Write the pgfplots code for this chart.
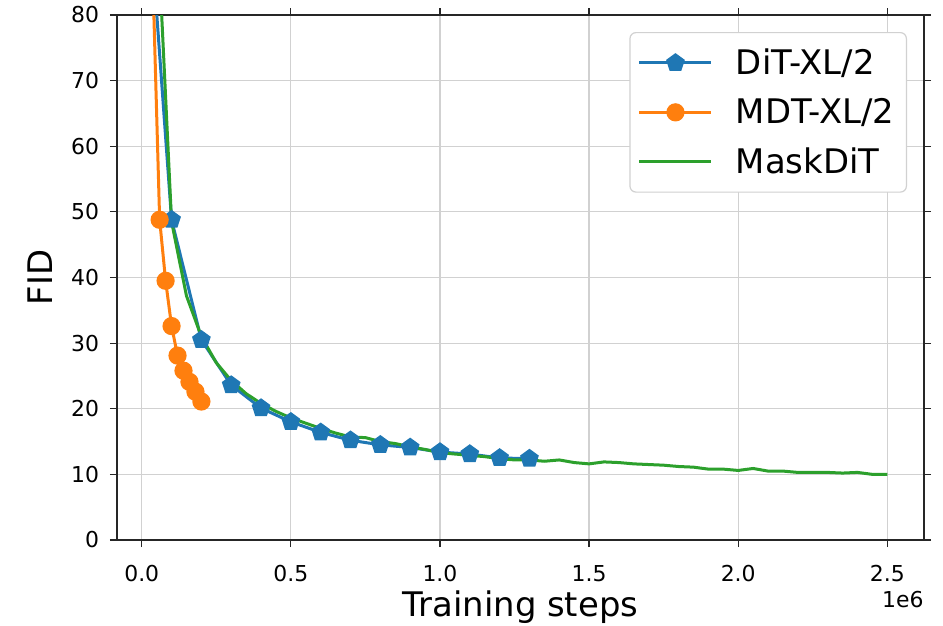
\documentclass[border=0pt]{standalone}
\usepackage{fontspec}
\setmainfont{DejaVu Sans}
\usepackage{pgfplots}
\pgfplotsset{compat=1.18}
\definecolor{tabblue}{HTML}{1F77B4}
\definecolor{taborange}{HTML}{FF7F0E}
\definecolor{tabgreen}{HTML}{2CA02C}
\begin{document}
\begin{tikzpicture}
\begin{axis}[
  width=403.5bp, height=262.5bp, scale only axis,
  xmin=-0.083, xmax=2.623, ymin=0, ymax=80,
  xtick={0,0.5,1,1.5,2,2.5}, xticklabels={0.0,0.5,1.0,1.5,2.0,2.5},
  ytick={0,10,...,80},
  tick align=outside, major tick length=3.5bp,
  tick style={black!85, line width=0.6bp},
  axis line style={black!85, line width=0.7bp},
  grid=major, grid style={black!18, line width=0.6bp},
  ticklabel style={font=\fontsize{11}{13}\selectfont},
  xticklabel style={yshift=-5.5bp},
  yticklabel style={xshift=-2bp},
  /pgf/number format/assume math mode=true,
  xlabel={Training steps}, ylabel={FID},
  label style={font=\fontsize{17}{20}\selectfont},
  xlabel style={at={(axis description cs:0.5,0)}, anchor=north, yshift=-22bp},
  ylabel style={at={(axis description cs:-0.0954,0.5)}, anchor=center},
  legend cell align=left,
  legend style={at={(rel axis cs:1,1)}, anchor=north east, xshift=-8.5bp, yshift=-8.5bp,
    draw=black!18, rounded corners=3bp, line width=0.6bp,
    font=\fontsize{17}{20}\selectfont, row sep=6.5bp, column sep=9.5bp, inner xsep=4bp, inner ysep=6bp},
  legend image code/.code={\draw[mark repeat=2,mark phase=2] plot coordinates {(0bp,0bp) (18bp,0bp) (36bp,0bp)};},
]
\coordinate (o) at (rel axis cs:0,0);
\coordinate (se) at (rel axis cs:1,0);
\addplot[tabblue, line width=1.5bp, mark=pentagon*, mark size=4bp, mark options={solid, fill=tabblue, draw=tabblue}]
  coordinates {(0.05,80.3) (0.1,48.8) (0.2,30.5) (0.3,23.6) (0.4,20.1) (0.5,18.0) (0.6,16.4) (0.7,15.2) (0.8,14.5) (0.9,14.1) (1.0,13.4) (1.1,13.1) (1.2,12.5) (1.3,12.4)};
\addlegendentry{DiT-XL/2}
\addplot[taborange, line width=1.5bp, mark=*, mark size=3.8bp, mark options={solid, fill=taborange, draw=taborange}]
  coordinates {(0.04,81) (0.06,48.8) (0.08,39.5) (0.10,32.6) (0.12,28.1) (0.14,25.8) (0.16,24.1) (0.18,22.6) (0.20,21.1)};
\addlegendentry{MDT-XL/2}
\addplot[tabgreen, line width=1.5bp]
  coordinates {(0.05,96) (0.1,48.5) (0.15,37.2) (0.2,31.0) (0.25,27.0) (0.3,24.3) (0.35,22.3) (0.4,20.8) (0.45,19.6) (0.5,18.6) (0.55,17.8) (0.6,17.0) (0.65,16.3) (0.7,15.7) (0.75,15.6) (0.8,15.0) (0.85,14.7) (0.9,14.2) (0.95,13.8) (1.0,13.3) (1.05,13.1) (1.1,12.9) (1.15,12.7) (1.2,12.4) (1.25,12.2) (1.3,12.2) (1.35,12.0) (1.4,12.2) (1.45,11.8) (1.5,11.6) (1.55,11.9) (1.6,11.8) (1.65,11.6) (1.7,11.5) (1.75,11.4) (1.8,11.2) (1.85,11.1) (1.9,10.8) (1.95,10.8) (2.0,10.6) (2.05,10.9) (2.1,10.5) (2.15,10.5) (2.2,10.3) (2.25,10.3) (2.3,10.3) (2.35,10.2) (2.4,10.3) (2.45,10.0) (2.5,10.0)};
\addlegendentry{MaskDiT}
\end{axis}
\node[anchor=north east, inner sep=0pt, font=\fontsize{11}{13}\selectfont] at ([yshift=-25.5bp]se) {1e6};
\pgfresetboundingbox
\path[use as bounding box] ([shift={(-58.5bp,-43bp)}]o) rectangle ++(471.5bp,313bp);
\end{tikzpicture}
\end{document}
